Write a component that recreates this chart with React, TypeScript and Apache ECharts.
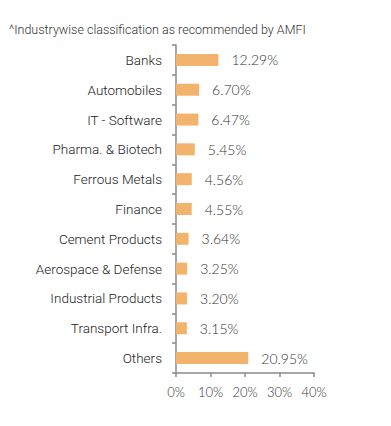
import React, { useEffect, useRef } from "react";
import * as echarts from "echarts";

const categories = [
  "Banks",
  "Automobiles",
  "IT - Software",
  "Pharma. & Biotech",
  "Ferrous Metals",
  "Finance",
  "Cement Products",
  "Aerospace & Defense",
  "Industrial Products",
  "Transport Infra.",
  "Others",
];
const values = [12.29, 6.7, 6.47, 5.45, 4.56, 4.55, 3.64, 3.25, 3.2, 3.15, 20.95];
const titleText = "^Industrywise classification as recommended by AMFI";

export default function App() {
  const ref = useRef<HTMLDivElement>(null);
  useEffect(() => {
    if (!ref.current) return;
    const chart = echarts.init(ref.current, undefined, { renderer: "svg" });
    chart.setOption({
      animation: false,
      backgroundColor: "#ffffff",
      title: {
        text: titleText,
        left: 9,
        top: 23,
        padding: 0,
        textStyle: { fontFamily: "Roboto", fontSize: 12.5, fontWeight: 300, color: "#333" },
      },
      grid: { left: 176, right: 77, top: 45, bottom: 53, containLabel: false },
      xAxis: {
        type: "value",
        min: 0,
        max: 40,
        interval: 10,
        splitLine: { show: false },
        axisLine: { show: true, lineStyle: { color: "#8a8a8a", width: 1.5 } },
        axisTick: { show: true, length: 4, lineStyle: { color: "#8a8a8a", width: 1.5 } },
        axisLabel: {
          formatter: "{value}%",
          fontFamily: "Lato",
          fontSize: 13,
          fontWeight: 300,
          color: "#333",
          margin: 12,
        },
      },
      yAxis: {
        type: "category",
        data: categories,
        inverse: true,
        axisLine: { show: true, lineStyle: { color: "#8a8a8a", width: 1.5 } },
        axisTick: { show: true, length: 4, alignWithLabel: false, lineStyle: { color: "#8a8a8a", width: 1.5 } },
        axisLabel: {
          fontFamily: "Roboto",
          fontSize: 13.5,
          fontWeight: 300,
          color: "#222",
          margin: 14,
        },
      },
      series: [
        {
          type: "bar",
          data: values,
          barWidth: 12,
          itemStyle: { color: "#F2B36C" },
          label: {
            show: true,
            position: "right",
            distance: 13,
            formatter: (p: any) => p.value.toFixed(2) + "%",
            fontFamily: "Lato",
            fontSize: 14,
            fontWeight: 300,
            color: "#333",
          },
        },
      ],
    });
    return () => chart.dispose();
  }, []);
  return (
    <div
      ref={ref}
      style={{ position: "absolute", left: 0, top: 0, width: 391, height: 426 }}
    />
  );
}
